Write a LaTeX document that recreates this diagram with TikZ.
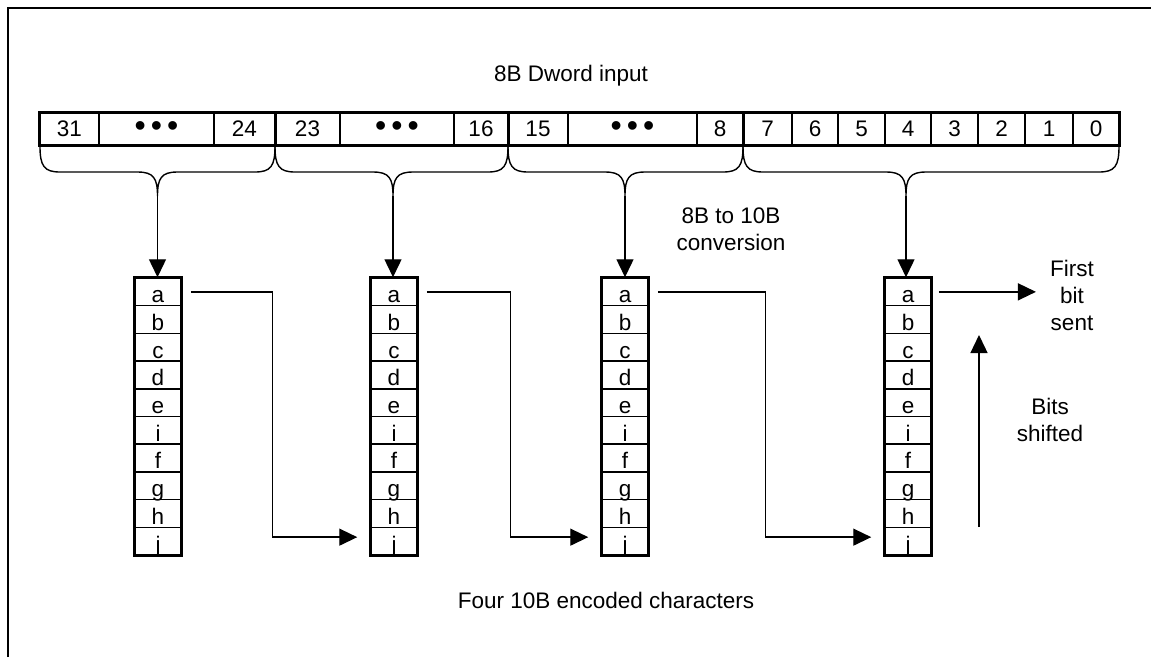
\documentclass[tikz,border=0pt]{standalone}
\usepackage{fontspec}
\setmainfont{Liberation Sans}
\usetikzlibrary{arrows.meta}
\newcommand\tridots{{\fontsize{32}{32}\selectfont\textbullet\hspace{5pt}\textbullet\hspace{5pt}\textbullet}}
\begin{document}
\begin{tikzpicture}[x=1pt,y=-1pt,
  txt/.style={font=\fontsize{22.5}{27}\selectfont, inner sep=0pt, align=center},
  regcell/.style={draw, line width=1.6pt, minimum height=32pt, inner sep=0pt, font=\fontsize{22.5}{26}\selectfont},
  bitcell/.style={draw, line width=1.5pt, minimum width=46pt, text height=24.7pt, text depth=3pt, inner xsep=0pt, inner ysep=0pt, font=\fontsize{22.5}{26}\selectfont},
  heavy/.style={line width=3pt},
  bracepath/.style={line width=1.4pt},
  conn/.style={line width=1.4pt, -{Triangle[length=18pt,width=17pt]}}
]
\useasboundingbox (0,0) rectangle (1151,657);
% frame
\draw[line width=1.5pt] (8,657) -- (8,8) -- (1151,8);

% title
\node[txt] (title) at (571,76) {8B Dword input};

% register
\foreach \l/\r/\t [count=\i] in {40/99/31, 99/214/\tridots, 214/275/24, 275/340/23, 340/454/\tridots, 454/508/16, 508/568/15, 568/697/\tridots, 697/743/8, 743/792/7, 792/838/6, 838/885/5, 885/931/4, 931/978/3, 978/1025/2, 1025/1073/1, 1073/1119/0}
  \node[regcell, minimum width={\r-\l}] (r\i) at ({(\l+\r)/2},129) {\t};
\draw[heavy] (r1.north west) rectangle (r17.south east);
\foreach \i in {3,6,9}
  \draw[heavy] (r\i.north east) -- (r\i.south east);

% braces
\foreach \L/\R/\C [count=\g] in {40/275/157.5, 275/508/393, 508/743/625, 743/1119/906} {
  \draw[bracepath] (\L,146) .. controls (\L,166) and (\L+4,172) .. (\L+20,172)
     -- (\C-20,172) .. controls (\C-4,172) and (\C,178) .. (\C,196)
     .. controls (\C,178) and (\C+4,172) .. (\C+20,172)
     -- (\R-20,172) .. controls (\R-4,172) and (\R,166) .. (\R,146);
  \coordinate (tip\g) at (\C,196);
}

% columns
\foreach \cx [count=\k] in {158,394,625,908} {
  \foreach \l [count=\j] in {a,b,c,d,e,i,f,g,h,j}
    \node[bitcell] (c\k-\j) at (\cx,{278+27.7*(\j-1)+13.85}) {\l};
  \draw[heavy] (c\k-1.north west) rectangle (c\k-10.south east);
  \draw[conn] (tip\k) -- (tip\k |- c\k-1.north);
}

% shifting connectors
\draw[conn] ([xshift=9pt]c1-1.east) -- ++(82,0) |- ([xshift=-13pt,yshift=4pt]c2-10.west);
\draw[conn] ([xshift=9pt]c2-1.east) -- ++(84,0) |- ([xshift=-13pt,yshift=4pt]c3-10.west);
\draw[conn] ([xshift=9pt]c3-1.east) -- ++(108,0) |- ([xshift=-13pt,yshift=4pt]c4-10.west);

% labels
\node[txt] (conv) at (731,229) {8B to 10B\\conversion};
\node[txt] (first) at (1072,295) {First\\bit\\sent};
\node[txt] (bits) at (1050,420) {Bits\\shifted};
\node[txt] (four) at (606,600) {Four 10B encoded characters};

% output arrows
\draw[conn] ([xshift=7pt]c4-1.east) -- ([xshift=-14pt]first.west |- c4-1.east);
\coordinate (bs0) at (979,527);
\coordinate (bs1) at (979,335);
\draw[conn] (bs0) -- (bs1);
\end{tikzpicture}
\end{document}
